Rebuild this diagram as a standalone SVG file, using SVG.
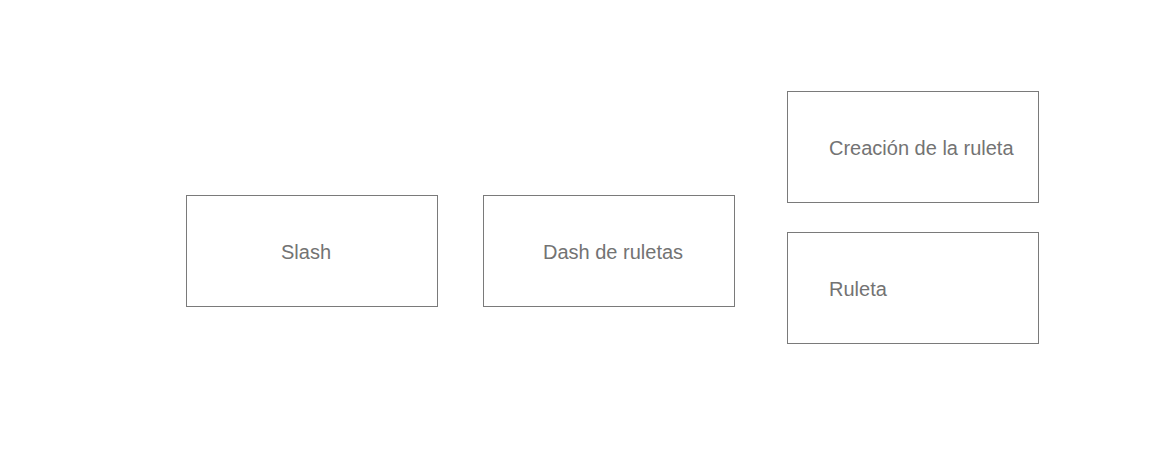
<svg xmlns="http://www.w3.org/2000/svg" width="1176" height="465" viewBox="0 0 1176 465">
<style>
.box{fill:#fff;stroke:#7a7a7a;stroke-width:1}
.lbl{font-family:"Liberation Sans",Arial,sans-serif;font-size:20px;fill:#737373}
</style>
<rect width="1176" height="465" fill="#fff"/>
<g id="connectors"></g>
<g id="slash"><rect class="box" x="186.5" y="195.5" width="251" height="111"/><text class="lbl" x="281" y="259">Slash</text></g>
<g id="dash"><rect class="box" x="483.5" y="195.5" width="251" height="111"/><text class="lbl" x="543" y="259">Dash de ruletas</text></g>
<g id="creacion"><rect class="box" x="787.5" y="91.5" width="251" height="111"/><text class="lbl" x="829" y="155">Creación de la ruleta</text></g>
<g id="ruleta"><rect class="box" x="787.5" y="232.5" width="251" height="111"/><text class="lbl" x="829" y="296">Ruleta</text></g>
</svg>
